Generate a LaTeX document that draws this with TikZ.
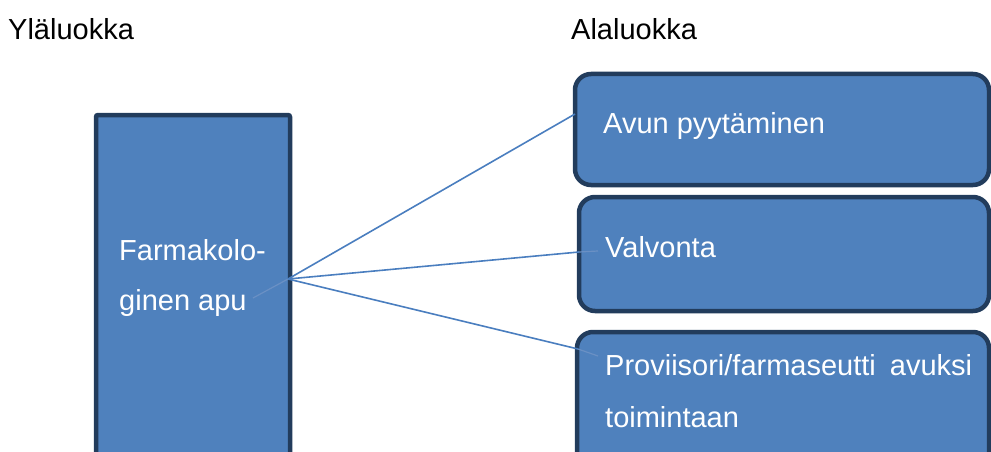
\documentclass[tikz,border=0pt]{standalone}
\usepackage{fontspec}
\setmainfont{Liberation Sans}
\definecolor{boxfill}{HTML}{4F81BD}
\definecolor{boxedge}{HTML}{223C5C}
\definecolor{linkcol}{HTML}{4A7EBF}
\definecolor{linkin}{HTML}{6A90C4}
\tikzset{
  box/.style={draw=boxedge, line width=4.5pt, fill=boxfill},
  txt/.style={anchor=base west, inner sep=0pt, font=\fontsize{29}{34}\selectfont},
  wtxt/.style={txt, text=white},
  link/.style={draw=linkcol, line width=1.6pt},
  linkinside/.style={draw=linkin, line width=1.2pt}
}
\begin{document}
\begin{tikzpicture}[x=1pt,y=-1pt]
\useasboundingbox (0,0) rectangle (991,452);
\clip (0,0) rectangle (991,452);
% boxes
\path[box, rounded corners=2pt] (96,115) rectangle (290,480);
\path[box, rounded corners=16pt] (575,74) rectangle (989,185);
\path[box, rounded corners=16pt] (579,197) rectangle (989,311);
\path[box, rounded corners=16pt] (577,332) rectangle (989,480);
% connectors
\coordinate (s) at (253,298);
\coordinate (j) at (288,279);
\coordinate (e1) at (575,114);
\coordinate (e2) at (579,252);
\coordinate (e3) at (578,349);
\coordinate (f2) at (598,251);
\coordinate (f3) at (598,356);
\draw[linkinside] (s) -- (j);
\draw[linkinside] (e2) -- (f2);
\draw[linkinside] (e3) -- (f3);
\draw[link] (j) -- (e1);
\draw[link] (j) -- (e2);
\draw[link] (j) -- (e3);
% texts
\node[txt] (h1) at (8,40) {Yläluokka};
\node[txt] (h2) at (571,40) {Alaluokka};
\node[wtxt] (t1a) at (119,260) {Farmakolo-};
\node[wtxt] (t1b) at (119,310) {ginen apu};
\node[wtxt] (t2) at (603,133) {Avun pyytäminen};
\node[wtxt] (t3) at (605,257) {Valvonta};
\node[wtxt] (t4a) at (605,375) {Proviisori/farmaseutti\hspace{6pt} avuksi};
\node[wtxt] (t4b) at (605,427) {toimintaan};
\end{tikzpicture}
\end{document}
